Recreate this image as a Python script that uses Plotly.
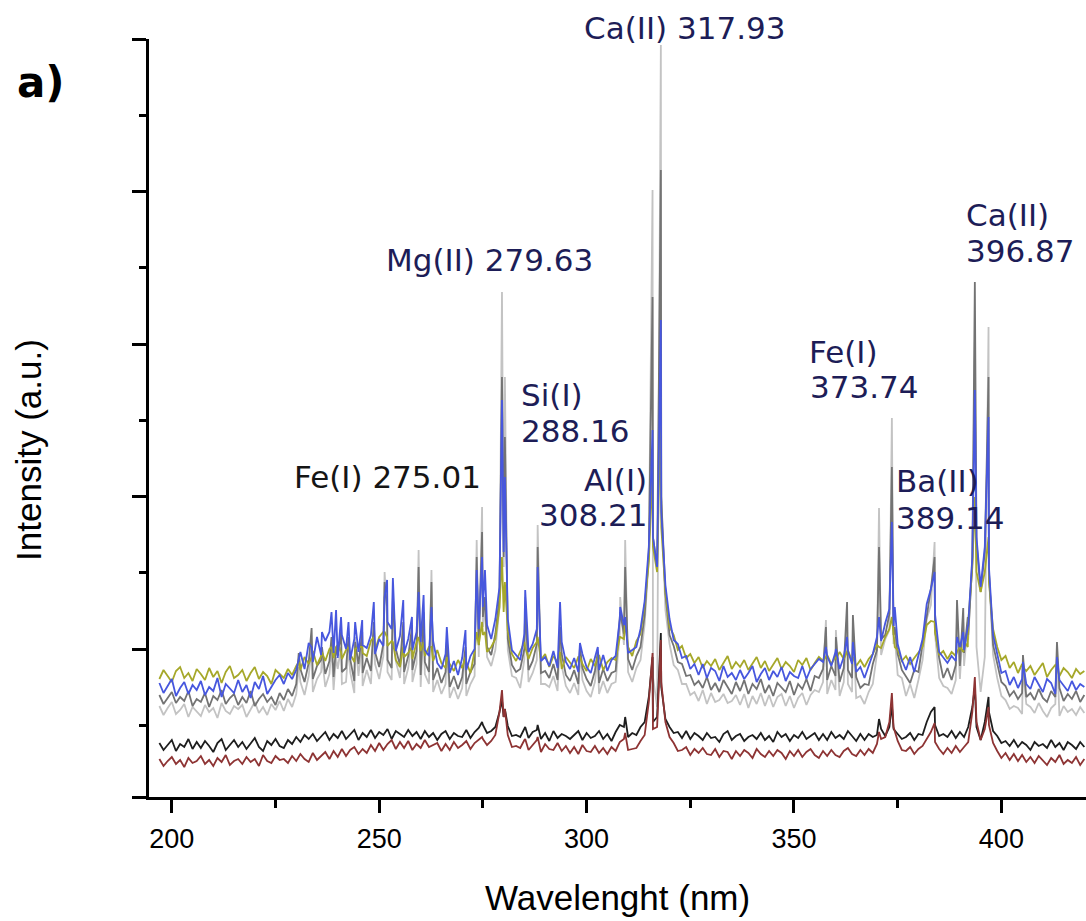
import plotly.graph_objects as go

# ---------------- data (intensity in a.u.) ----------------
wavelength = list(range(197, 421))  # 1 nm sampling grid, 197..420 nm

olive_base = [
    118,127,121,115,126,130,119,124,116,128,
    123,117,129,120,126,114,125,131,119,122,
    127,116,124,130,118,125,121,113,127,123,
    119,128,122,131,127,140,133,146,132,141,
    136,148,139,152,138,147,143,135,150,144,
    141,156,147,160,165,151,156,137,130,140,
    144,138,155,146,141,150,136,147,134,129,
    133,126,137,129,135,124,146,152,162,145,
    150,158,190,185,166,143,136,145,155,138,
    149,155,137,143,130,141,135,128,140,134,
    129,140,133,126,138,131,142,127,135,139,
    137,160,158,150,141,156,163,192,235,250,
    225,270,205,170,162,147,151,139,143,134,
    140,129,136,131,138,127,134,141,128,135,
    130,137,127,134,140,129,136,126,133,139,
    128,135,131,125,137,132,139,127,134,140,
    136,142,133,140,145,138,147,136,131,137,
    130,138,143,152,149,160,168,157,147,136,
    141,133,139,144,150,172,176,165,142,146,
    138,145,141,150,156,175,230,225,205,225,
    215,168,150,137,141,129,135,124,133,126,
    131,122,128,134,120,127,132,121,129,125,
    119,128,123,126]

blue_base = [
    114,104,111,118,101,109,115,103,112,107,
    116,102,110,106,119,100,113,108,104,117,
    105,112,99,115,108,121,103,110,117,122,
    113,124,118,127,145,128,154,135,160,142,
    156,165,144,139,162,148,137,158,145,152,
    149,162,143,158,151,175,168,146,161,144,
    158,147,165,155,147,141,156,134,128,143,
    124,136,122,139,127,141,148,168,190,172,
    158,178,210,245,178,147,142,137,163,145,
    153,168,136,140,131,146,129,155,135,128,
    139,125,143,130,124,140,127,142,126,137,
    141,178,172,144,147,150,168,196,250,260,
    230,285,212,178,157,153,139,141,128,133,
    122,133,119,129,126,116,131,120,124,117,
    127,118,124,131,115,123,129,117,126,120,
    130,116,125,121,119,131,118,128,133,138,
    135,141,131,145,128,140,146,133,125,130,
    119,131,143,160,156,174,188,171,153,137,
    127,140,125,143,158,193,208,183,145,139,
    134,141,136,150,147,172,240,260,210,250,
    230,162,143,124,126,112,120,109,118,113,
    108,120,112,105,118,114,103,117,111,106,
    116,107,113,110]

dgray_base = [
    102,93,99,105,94,100,96,106,91,98,
    95,104,90,101,97,107,93,99,103,92,
    100,94,106,91,98,103,95,100,92,104,
    97,108,101,113,128,115,134,118,131,137,
    123,136,120,141,125,129,138,116,133,124,
    139,126,145,130,153,137,129,148,132,125,
    141,127,146,122,135,125,117,129,114,125,
    110,121,108,120,113,125,133,152,180,150,
    142,163,200,240,158,132,125,128,148,127,
    136,153,124,126,119,133,117,143,122,116,
    127,113,129,118,111,126,114,128,116,124,
    126,173,163,138,127,141,150,182,245,260,
    230,300,203,162,151,135,133,121,122,112,
    116,109,120,107,114,105,117,110,103,115,
    106,117,103,113,108,118,104,112,101,114,
    110,105,116,102,113,108,118,106,121,119,
    128,117,131,121,115,129,127,119,120,109,
    113,112,133,147,158,162,183,162,143,127,
    121,114,127,125,153,182,208,167,139,119,
    129,117,132,131,144,162,235,255,205,245,
    225,152,133,115,111,101,106,98,104,100,
    104,97,108,99,95,106,100,109,96,103,
    98,106,95,102]

lgray_base = [
    91,82,89,95,83,87,93,80,90,86,
    81,92,85,89,79,94,86,83,91,88,
    92,80,88,95,84,90,82,93,87,96,
    86,98,90,103,115,102,121,105,118,125,
    110,123,107,128,113,115,125,104,121,111,
    127,113,133,118,141,125,117,136,119,113,
    129,115,133,110,123,113,105,117,103,113,
    99,110,98,109,101,113,121,140,170,140,
    131,147,190,230,147,121,119,109,138,115,
    124,137,113,113,110,121,106,131,111,104,
    114,102,117,106,100,115,103,116,104,113,
    115,163,152,125,115,129,137,173,240,120,
    90,300,187,153,132,127,113,113,102,105,
    96,107,93,104,95,97,103,94,96,102,
    92,103,89,101,93,104,91,102,90,100,
    103,91,101,89,99,104,92,102,107,105,
    115,103,117,107,101,115,113,105,99,101,
    93,105,113,143,142,158,167,153,122,119,
    101,113,99,117,137,178,192,163,119,111,
    109,103,117,118,131,157,240,150,105,140,
    225,142,119,101,97,88,91,89,83,93,
    90,84,94,86,80,89,93,81,91,85,
    88,82,90,84]

black_base = [
    54,47,52,57,46,53,50,58,48,55,
    49,56,51,45,54,58,47,52,57,50,
    55,48,53,59,50,46,56,52,58,51,
    49,57,53,60,55,62,58,63,56,61,
    65,57,63,59,66,58,62,67,57,64,
    60,67,59,65,62,68,58,66,63,60,
    67,61,65,58,66,60,64,57,63,66,
    58,64,61,60,67,59,65,69,72,64,
    66,70,85,80,71,61,62,60,68,59,
    65,67,58,64,56,66,59,63,61,58,
    62,66,57,64,59,61,66,58,63,56,
    65,72,70,60,64,62,70,75,100,75,
    80,110,78,70,64,65,59,66,58,64,
    61,57,64,59,60,55,63,66,57,61,
    63,56,60,62,58,64,57,61,55,65,
    60,63,56,62,59,65,58,61,64,57,
    63,57,65,59,62,58,66,61,56,63,
    57,63,60,62,68,61,70,68,63,58,
    60,64,57,63,62,75,85,72,61,63,
    60,66,59,65,60,70,90,70,57,75,
    85,66,61,54,56,51,57,50,55,52,
    47,55,51,53,49,57,50,54,47,55,
    52,48,55,50]

red_base = [
    38,31,36,40,33,37,30,39,34,36,
    41,33,37,31,39,35,42,32,36,38,
    33,40,35,38,31,42,36,34,41,37,
    38,34,41,36,43,38,35,44,37,41,
    45,38,46,40,48,41,47,50,43,48,
    44,52,46,54,47,53,57,48,55,49,
    56,47,53,49,57,50,52,54,46,53,
    47,55,49,52,56,48,54,57,58,52,
    56,62,85,80,62,50,51,49,57,47,
    52,57,45,53,48,47,54,46,51,44,
    50,43,52,46,45,51,44,49,43,50,
    46,55,58,47,48,49,56,62,95,68,
    70,115,75,60,54,46,47,50,42,48,
    44,49,43,42,48,40,46,45,38,46,
    41,47,44,39,48,43,40,46,41,47,
    44,38,46,41,47,40,45,48,42,39,
    46,41,47,42,40,46,49,43,41,47,
    42,48,44,53,58,60,75,70,56,47,
    46,50,43,48,51,58,65,55,48,43,
    49,44,51,45,50,55,85,75,57,68,
    72,54,46,39,44,37,43,36,42,35,
    40,34,41,36,32,39,35,42,33,37,
    34,40,32,38]

# emission lines (peak tops) of the four upper spectra
upper_line_wl = [230.6, 233.7, 236.2, 238.5, 239.6, 240.8, 242.6, 244.2, 245.9, 248.7,
                 251.3, 251.9, 253.3, 255.8, 257.9, 259.5, 260.7, 262.6, 266.3, 270.8,
                 273.5, 274.8, 275.5, 279.6, 280.3, 285.2, 288.2, 293.6, 298.4, 302.7,
                 308.1, 309.3, 315.9, 317.9, 357.7, 360.1, 362.8, 364.2, 370.5, 373.6,
                 374.3, 383.9, 389.3, 390.8, 391.9, 393.6, 396.9, 405.2, 413.4]
olive_lines = [135, 140, 145, 150, 150, 145, 150, 148, 150, 160,
               165, 160, 155, 150, 150, 160, 155, 150, 140, 140,
               165, 175, 165, 240, 215, 150, 160, 145, 140, 140,
               160, 175, 330, 400, 140, 138, 145, 140, 150, 180,
               150, 175, 145, 145, 150, 300, 260, 130, 130]
blue_lines = [140, 150, 165, 185, 187, 180, 175, 175, 177, 195,
              200, 217, 219, 197, 180, 205, 202, 190, 170, 167,
              227, 240, 227, 397, 320, 207, 230, 195, 154, 150,
              190, 180, 367, 477, 150, 148, 160, 155, 180, 275,
              190, 225, 160, 165, 170, 407, 380, 135, 140]
dgray_lines = [144, 169, 150, 160, 150, 165, 160, 155, 165, 175,
               215, 190, 200, 175, 170, 230, 185, 215, 155, 150,
               240, 265, 200, 420, 360, 190, 250, 170, 150, 145,
               185, 230, 500, 627, 170, 160, 195, 182, 250, 330,
               170, 240, 197, 189, 180, 515, 420, 142, 155]
lgray_lines = [130, 150, 140, 150, 140, 150, 150, 160, 155, 165,
               225, 180, 190, 165, 160, 247, 175, 227, 150, 145,
               257, 290, 190, 505, 420, 200, 272, 160, 145, 140,
               200, 257, 607, 752, 177, 167, 180, 170, 289, 379,
               160, 255, 180, 175, 175, 455, 470, 130, 145]

# emission lines of the two lower spectra
lower_line_wl = [274.8, 279.6, 280.3, 285.2, 288.2, 309.3, 315.9, 317.9,
                 370.5, 373.6, 383.9, 393.6, 396.9]
black_lines = [75, 97, 88, 70, 72, 80, 140, 164, 78, 92, 90, 110, 100]
red_lines = [60, 107, 88, 58, 60, 64, 144, 157, 65, 104, 74, 120, 90]

x_ticks = [200, 250, 300, 350, 400]
x_minor = [225, 275, 325, 375]

NAVY = "#1d1d57"
labels = [
    # text, wavelength, intensity, anchor, colour
    ("Mg(II) 279.63", 276.6, 537, "center", NAVY),
    ("Fe(I) 275.01", 252.0, 320, "center", "#151515"),
    ("Si(I)", 283.6, 402, "left", NAVY),
    ("288.16", 283.6, 366, "left", NAVY),
    ("Al(I)", 315.0, 317, "right", NAVY),
    ("308.21", 315.0, 282, "right", NAVY),
    ("Fe(I)", 353.2, 445, "left", NAVY),
    ("373.74", 353.4, 410, "left", NAVY),
    ("Ba(II)", 374.2, 316.5, "left", NAVY),
    ("389.14", 374.2, 279.5, "left", NAVY),
    ("Ca(II)", 391.0, 582, "left", NAVY),
    ("396.87", 391.0, 546, "left", NAVY),
]


def merge(base, line_wl, line_vals):
    pts = sorted(list(zip(wavelength, base)) + list(zip(line_wl, line_vals)))
    return [p[0] for p in pts], [p[1] for p in pts]


series = [
    (lgray_base, upper_line_wl, lgray_lines, "#c3c3c3"),
    (dgray_base, upper_line_wl, dgray_lines, "#737373"),
    (olive_base, upper_line_wl, olive_lines, "#a6a82a"),
    (blue_base, upper_line_wl, blue_lines, "#4757de"),
    (black_base, lower_line_wl, black_lines, "#1e1e1e"),
    (red_base, lower_line_wl, red_lines, "#8e3434"),
]

fig = go.Figure()
for base, lwl, lv, col in series:
    xs, ys = merge(base, lwl, lv)
    fig.add_trace(go.Scatter(x=xs, y=ys, mode="lines",
                             line=dict(color=col, width=1.8),
                             hoverinfo="skip", showlegend=False))

for text, xv, yv, anchor, col in labels:
    fig.add_annotation(x=xv, y=yv, xref="x", yref="y", text=text,
                       showarrow=False, xanchor=anchor, yanchor="middle",
                       font=dict(family="DejaVu Sans", size=31, color=col))

fig.add_annotation(x=0.5715, y=1.0145, xref="paper", yref="paper",
                   text="Ca(II) 317.93", showarrow=False,
                   xanchor="center", yanchor="middle",
                   font=dict(family="DejaVu Sans", size=31, color=NAVY))
fig.add_annotation(x=-0.1153, y=0.942, xref="paper", yref="paper",
                   text="<b>a)</b>", showarrow=False,
                   xanchor="center", yanchor="middle",
                   font=dict(family="DejaVu Sans", size=42, color="black"))
fig.add_annotation(x=0.4995, y=-0.133, xref="paper", yref="paper",
                   text="Wavelenght (nm)", showarrow=False,
                   xanchor="center", yanchor="middle",
                   font=dict(family="Liberation Sans", size=35, color="black"))
fig.add_annotation(x=-0.128, y=0.458, xref="paper", yref="paper",
                   text="Intensity (a.u.)", showarrow=False, textangle=-90,
                   xanchor="center", yanchor="middle",
                   font=dict(family="Liberation Sans", size=35, color="black"))

fig.update_layout(
    width=1086, height=921,
    margin=dict(l=149, r=0, t=39, b=124),
    plot_bgcolor="white", paper_bgcolor="white",
    showlegend=False,
)
fig.update_xaxes(
    range=[194.5, 420.4], showgrid=False, zeroline=False,
    showline=True, linecolor="black", linewidth=3,
    ticks="outside", ticklen=13, tickwidth=3, tickcolor="black",
    tickmode="array", tickvals=x_ticks, ticklabelstandoff=3,
    tickfont=dict(family="Liberation Sans", size=27, color="black"),
    minor=dict(ticks="outside", ticklen=8, tickwidth=3, tickcolor="black",
               tickmode="array", tickvals=x_minor),
)
fig.update_yaxes(
    range=[0, 758], showgrid=False, zeroline=False,
    showline=True, linecolor="black", linewidth=3,
    ticks="outside", ticklen=14, tickwidth=3, tickcolor="black",
    tickmode="array", tickvals=[0, 148, 300.5, 453, 605.5, 758],
    showticklabels=False,
    minor=dict(ticks="outside", ticklen=7, tickwidth=3, tickcolor="black",
               tickmode="array", tickvals=[71.75, 224.25, 376.75, 529.25, 681.75]),
)

fig.write_html("out.html")
